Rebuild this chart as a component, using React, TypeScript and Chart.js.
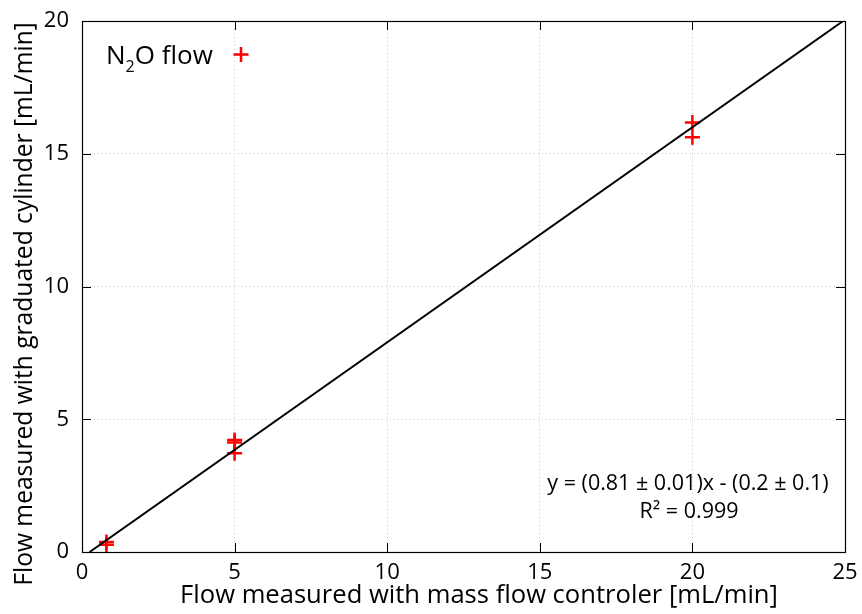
import React, { useEffect, useRef } from "react";
import { Chart, registerables } from "chart.js";

Chart.register(...registerables);

// ---- data ----
const mfcFlow = [0.8, 0.8, 5, 5, 5, 20, 20];
const cylinderFlow = [0.38, 0.27, 4.22, 4.12, 3.72, 16.18, 15.62];
const fitLineX = [0.25, 24.94];
const fitLineY = [0, 20];
const xTicks = [0, 5, 10, 15, 20, 25];
const yTicks = [0, 5, 10, 15, 20];

const xTitle = "Flow measured with mass flow controler [mL/min]";
const yTitle = "Flow measured with graduated cylinder [mL/min]";
const fitText = "y = (0.81 \u00b1 0.01)x - (0.2 \u00b1 0.1)";
const r2Text = "R\u00b2 = 0.999";

const FONT = '"Open Sans", "DejaVu Sans", sans-serif';

// fixed plot frame (pixels in the 862x614 canvas)
const AREA = { left: 82, top: 21, right: 845, bottom: 552 };

const framePlugin = {
  id: "frame",
  afterLayout(chart: any) {
    const { left, top, right, bottom } = AREA;
    const ca = chart.chartArea;
    ca.left = left;
    ca.top = top;
    ca.right = right;
    ca.bottom = bottom;
    ca.width = right - left;
    ca.height = bottom - top;
    const xs = chart.scales.x;
    xs.left = left;
    xs.right = right;
    xs.width = right - left;
    xs.top = bottom;
    xs.bottom = chart.height;
    xs.height = chart.height - bottom;
    const ys = chart.scales.y;
    ys.left = 0;
    ys.right = left;
    ys.width = left;
    ys.top = top;
    ys.bottom = bottom;
    ys.height = bottom - top;
    xs.configure();
    ys.configure();
  },
};

const decorPlugin = {
  id: "decor",
  afterDraw(chart: any) {
    const { ctx, chartArea } = chart;
    const { left, right, top, bottom } = chartArea;
    const xs = chart.scales.x;
    const ys = chart.scales.y;
    ctx.save();
    // inward tick marks on all four sides
    ctx.strokeStyle = "#000";
    ctx.lineWidth = 1;
    const tl = 9;
    ctx.beginPath();
    for (const v of xTicks) {
      const px = Math.round(xs.getPixelForValue(v)) + 0.5;
      ctx.moveTo(px, bottom);
      ctx.lineTo(px, bottom - tl);
      ctx.moveTo(px, top);
      ctx.lineTo(px, top + tl);
    }
    for (const v of yTicks) {
      const py = Math.round(ys.getPixelForValue(v)) + 0.5;
      ctx.moveTo(left, py);
      ctx.lineTo(left + tl, py);
      ctx.moveTo(right, py);
      ctx.lineTo(right - tl, py);
    }
    ctx.stroke();
    // box
    ctx.lineWidth = 1.2;
    ctx.strokeRect(left + 0.5, top + 0.5, right - left, bottom - top);

    // axis titles
    ctx.fillStyle = "#000";
    ctx.textAlign = "center";
    ctx.textBaseline = "alphabetic";
    ctx.font = `25.6px ${FONT}`;
    ctx.fillText(xTitle, 479, 603);
    ctx.save();
    ctx.translate(32, 304);
    ctx.rotate(-Math.PI / 2);
    ctx.font = `24.6px ${FONT}`;
    ctx.fillText(yTitle, 0, 0);
    ctx.restore();

    // fit annotation
    ctx.font = `21.5px ${FONT}`;
    ctx.fillText(fitText, 688, 490);
    ctx.fillText(r2Text, 689, 518);

    // legend: text then marker
    ctx.textAlign = "left";
    let lx = 106;
    const ly = 64;
    ctx.font = `26px ${FONT}`;
    ctx.fillText("N", lx, ly);
    lx += ctx.measureText("N").width;
    ctx.font = `16px ${FONT}`;
    ctx.fillText("2", lx, ly + 8);
    lx += ctx.measureText("2").width;
    ctx.font = `26px ${FONT}`;
    ctx.fillText("O flow", lx, ly);
    ctx.strokeStyle = "#ff0000";
    ctx.lineWidth = 2.5;
    ctx.beginPath();
    ctx.moveTo(233.5, 54.5);
    ctx.lineTo(248.5, 54.5);
    ctx.moveTo(241, 47);
    ctx.lineTo(241, 62);
    ctx.stroke();
    ctx.restore();
  },
};

export default function App() {
  const ref = useRef<HTMLCanvasElement | null>(null);
  useEffect(() => {
    if (!ref.current) return;
    const gridColor = (c: any) =>
      c.tick && (c.tick.value === c.scale.min || c.tick.value === c.scale.max)
        ? "rgba(0,0,0,0)"
        : "#c8c8c8";
    const chart = new Chart(ref.current, {
      type: "scatter",
      data: {
        datasets: [
          {
            label: "fit",
            type: "line",
            data: fitLineX.map((x, i) => ({ x, y: fitLineY[i] })),
            borderColor: "#000",
            borderWidth: 2,
            pointRadius: 0,
            fill: false,
          } as any,
          {
            label: "N2O flow",
            data: mfcFlow.map((x, i) => ({ x, y: cylinderFlow[i] })),
            pointStyle: "cross",
            pointRadius: 7.5,
            pointBorderWidth: 2.5,
            borderColor: "#ff0000",
            backgroundColor: "#ff0000",
          },
        ],
      },
      options: {
        responsive: false,
        animation: false,
        events: [],
        layout: { padding: { top: 21, right: 17, left: 0, bottom: 0 } },
        plugins: { legend: { display: false }, tooltip: { enabled: false } },
        scales: {
          x: {
            type: "linear",
            min: 0,
            max: 25,
            afterBuildTicks: (s: any) => {
              s.ticks = xTicks.map((v) => ({ value: v }));
            },
            afterFit: (s: any) => {
              s.height = 62;
            },
            ticks: {
              font: { family: FONT, size: 22 },
              color: "#000",
              padding: 8,
              maxRotation: 0,
            },
            grid: { color: gridColor, drawTicks: false, lineWidth: 1 },
            border: { display: false, dash: [1, 3] },
          },
          y: {
            type: "linear",
            min: 0,
            max: 20,
            afterBuildTicks: (s: any) => {
              s.ticks = yTicks.map((v) => ({ value: v }));
            },
            afterFit: (s: any) => {
              s.width = 82;
            },
            ticks: {
              font: { family: FONT, size: 22 },
              color: "#000",
              padding: 13,
            },
            grid: { color: gridColor, drawTicks: false, lineWidth: 1 },
            border: { display: false, dash: [1, 3] },
          },
        },
      },
      plugins: [framePlugin, decorPlugin],
    });
    return () => chart.destroy();
  }, []);
  return (
    <div style={{ position: "fixed", left: 0, top: 0, width: 862, height: 614, background: "#fff" }}>
      <canvas ref={ref} width={862} height={614} style={{ width: 862, height: 614, display: "block" }} />
    </div>
  );
}
